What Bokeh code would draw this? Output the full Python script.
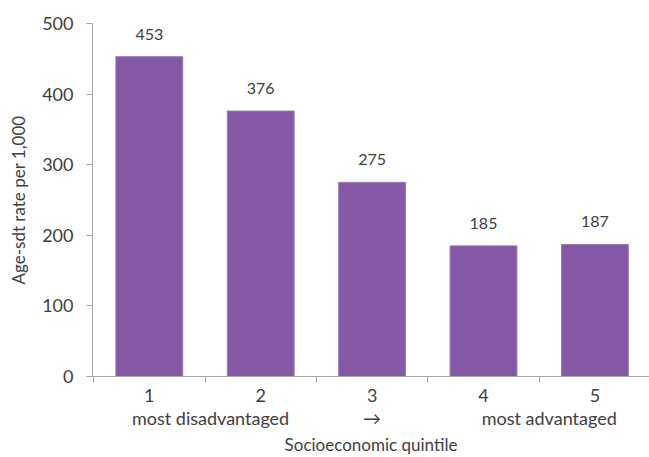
from bokeh.plotting import figure
from bokeh.models import Range1d, LinearAxis, FixedTicker, ColumnDataSource, LabelSet
from bokeh.core.properties import value
from bokeh.embed import file_html
from bokeh.resources import INLINE

quintiles = [1, 2, 3, 4, 5]
rates = [453, 376, 275, 185, 187]
tick_labels = ["1", "2", "3", "4", "5"]
row2_ticks = [1.55, 3.0, 4.59]
row2_labels = ["most disadvantaged", "→", "most advantaged"]
y_ticks = [0, 100, 200, 300, 400, 500]

FONT = "Lato"
TXT = "#404040"
AX = "#A6A6A6"
BAR = "#8558A6"

p = figure(width=649, height=457, output_backend="svg", toolbar_location=None,
           x_range=Range1d(0.49, 5.49), y_range=Range1d(0, 500),
           x_axis_type=None, y_axis_type=None,
           min_border_left=92, min_border_right=0, min_border_top=23, min_border_bottom=81)
p.outline_line_color = None
p.xgrid.visible = False
p.ygrid.visible = False

src = ColumnDataSource(dict(x=quintiles, y=rates, lab=[str(v) for v in rates]))
p.vbar(x="x", top="y", width=0.6, source=src, fill_color=BAR, line_color="#9A78B8", line_width=1)
p.add_layout(LabelSet(x="x", y="y", text="lab", source=src, y_offset=17, text_align="center",
                      text_baseline="alphabetic", text_font=value(FONT), text_font_size="16px",
                      text_color=TXT))

# y axis
ya = LinearAxis(ticker=FixedTicker(ticks=y_ticks, minor_ticks=[]), axis_label="Age-sdt rate per 1,000")
ya.axis_line_color = AX
ya.major_tick_line_color = AX
ya.major_tick_out = 6
ya.major_tick_in = 0
ya.minor_tick_line_color = None
ya.major_label_text_font = FONT
ya.major_label_text_font_size = "18px"
ya.major_label_text_color = TXT
ya.major_label_standoff = 13
ya.axis_label_text_font = FONT
ya.axis_label_text_font_size = "17px"
ya.axis_label_text_font_style = "normal"
ya.axis_label_text_color = TXT
ya.axis_label_standoff = 10
p.add_layout(ya, "left")

# x axis: numbers at centres, ticks at boundaries (minor ticks)
xa = LinearAxis(ticker=FixedTicker(ticks=quintiles, minor_ticks=[q - 0.5 for q in quintiles] + [5.5]),
                major_label_overrides={q: t for q, t in zip(quintiles, tick_labels)})
xa.axis_line_color = AX
xa.major_tick_line_color = None
xa.major_tick_out = 0
xa.major_tick_in = 0
xa.minor_tick_line_color = AX
xa.minor_tick_out = 6
xa.minor_tick_in = 0
xa.major_label_text_font = FONT
xa.major_label_text_font_size = "18px"
xa.major_label_text_color = TXT
xa.major_label_standoff = 6
p.add_layout(xa, "below")

xb = LinearAxis(ticker=FixedTicker(ticks=row2_ticks, minor_ticks=[]),
                major_label_overrides={t: l for t, l in zip(row2_ticks, row2_labels)},
                axis_label="Socioeconomic quintile")
xb.axis_line_color = None
xb.major_tick_line_color = None
xb.major_tick_out = 0
xb.major_tick_in = 0
xb.minor_tick_line_color = None
xb.major_label_text_font = FONT
xb.major_label_text_font_size = "18px"
xb.major_label_text_color = TXT
xb.major_label_standoff = 2
xb.axis_label_text_font = FONT
xb.axis_label_text_font_size = "17px"
xb.axis_label_text_font_style = "normal"
xb.axis_label_text_color = TXT
xb.axis_label_standoff = 2
p.add_layout(xb, "below")

open("out.html", "w").write(file_html(p, INLINE))
